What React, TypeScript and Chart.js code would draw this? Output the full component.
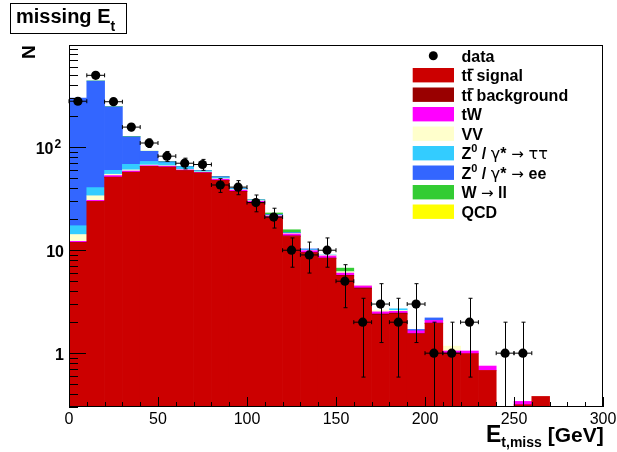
import React, { useEffect, useRef } from "react";
import { Chart, registerables } from "chart.js";

Chart.register(...registerables);

// ---- data (bins of 10 GeV, centres) ----
const BIN_CENTERS = [5, 15, 25, 35, 45, 55, 65, 75, 85, 95, 105, 115, 125, 135, 145, 155, 165, 175, 185, 195, 205, 215, 225, 235, 245, 255, 265, 275, 285, 295];
const DATA_COUNTS = [280, 500, 277, 157, 110, 82, 70, 68, 43, 41, 29, 21, 10, 9, 10, 5, 2, 3, 2, 3, 1, 1, 2, 0, 1, 1, 0, 0, 0, 0];

const TT_SIGNAL = [11.8, 29.5, 51, 57, 65, 64, 59, 56, 47.5, 37, 29, 20.8, 13.6, 9.4, 8.3, 5.6, 4.2, 2.35, 2.4, 1.52, 1.94, 1.0, 0.99, 0.68, 0, 0.316, 0.38, 0, 0, 0];
const TT_BACKGROUND = [0.1, 0.2, 0.3, 0.3, 0.3, 0.3, 0.3, 0.3, 0.3, 0.3, 0.2, 0.2, 0.2, 0.1, 0.1, 0.1, 0.1, 0.05, 0.05, 0.03, 0.02, 0, 0, 0, 0, 0, 0, 0, 0, 0];
const TW = [0.3, 0.8, 1.8, 1.5, 1.0, 1.2, 1.0, 0.8, 1.2, 1.0, 0.7, 0.5, 0.6, 0.4, 0.4, 0.3, 0.2, 0.12, 0.1, 0.1, 0.12, 0.05, 0.06, 0.07, 0, 0.024, 0, 0, 0, 0];
const VV = [2.0, 3.3, 1.6, 1.5, 1.0, 0.8, 0.6, 0.5, 0.6, 0.5, 0.4, 0.2, 0.2, 0.1, 0.1, 0.2, 0.05, 0.1, 0.05, 0, 0, 0.12, 0, 0, 0, 0, 0, 0, 0, 0];
const Z_TAUTAU = [3.1, 6.8, 5, 8, 5.5, 4.5, 3.5, 1.4, 1.2, 0.8, 0.4, 0.2, 0.1, 0.1, 0.1, 0, 0, 0, 0.1, 0, 0, 0, 0, 0, 0, 0, 0, 0, 0, 0];
const Z_EE = [283, 400, 188, 58, 18.5, 1.5, 0.5, 0.3, 1.0, 0.3, 0.1, 0.3, 0.1, 0.2, 0, 0, 0, 0, 0, 0.05, 0.12, 0, 0, 0, 0, 0, 0, 0, 0, 0];
const W_LL = [0, 0.5, 0.5, 1, 0.3, 0.4, 0.2, 0.2, 0.1, 0.1, 0.1, 0.8, 1.0, 0, 0, 0.5, 0, 0, 0, 0, 0, 0, 0, 0, 0, 0, 0, 0, 0, 0];
const QCD = [0, 0, 0, 0, 0, 0, 0, 0, 0, 0, 0, 0, 0, 0, 0, 0, 0, 0, 0, 0, 0, 0, 0, 0, 0, 0, 0, 0, 0, 0];

const X_TICK_LABELS = [0, 50, 100, 150, 200, 250, 300];
const Y_MAJOR_TICKS = [1, 10, 100];
const BIN_WIDTH = 10;

const SERIES = [
  { key: "signal", values: TT_SIGNAL, color: "#cc0000" },
  { key: "background", values: TT_BACKGROUND, color: "#990000" },
  { key: "tW", values: TW, color: "#ff00ff" },
  { key: "VV", values: VV, color: "#ffffcc" },
  { key: "Ztt", values: Z_TAUTAU, color: "#33ccff" },
  { key: "Zee", values: Z_EE, color: "#3366ff" },
  { key: "W", values: W_LL, color: "#33cc33" },
  { key: "QCD", values: QCD, color: "#ffff00" },
];

const SANS = "'Liberation Sans', Arial, Helvetica, sans-serif";
const SYM = "'DejaVu Sans', sans-serif";
const B = (s: number) => `bold ${s}px ${SANS}`;
const R = (s: number) => `${s}px ${SANS}`;
const S = (s: number) => `${s}px ${SYM}`;

type Seg = { t: string; f: string; dy?: number };

function drawRich(ctx: CanvasRenderingContext2D, x: number, y: number, segs: Seg[]) {
  let cx = x;
  for (const s of segs) {
    ctx.font = s.f;
    ctx.fillText(s.t, cx, y + (s.dy || 0));
    cx += ctx.measureText(s.t).width;
  }
  return cx;
}

const decorPlugin = {
  id: "decor",
  afterDatasetsDraw(chart: any) {
    const ctx: CanvasRenderingContext2D = chart.ctx;
    const xs = chart.scales.x;
    const ys = chart.scales.y;
    const ca = chart.chartArea;
    ctx.save();

    // error bars for data
    ctx.strokeStyle = "#000";
    ctx.lineWidth = 1;
    BIN_CENTERS.forEach((c, i) => {
      const n = DATA_COUNTS[i];
      if (n <= 0) return;
      const err = Math.sqrt(n);
      const px = Math.round(xs.getPixelForValue(c)) + 0.5;
      const py = ys.getPixelForValue(n);
      const x1 = xs.getPixelForValue(c - BIN_WIDTH / 2);
      const x2 = xs.getPixelForValue(c + BIN_WIDTH / 2);
      const lo = n - err > ys.min ? ys.getPixelForValue(n - err) : ca.bottom;
      const hi = ys.getPixelForValue(n + err);
      ctx.beginPath();
      ctx.moveTo(x1, py); ctx.lineTo(x2, py);
      ctx.moveTo(x1, py - 2); ctx.lineTo(x1, py + 2);
      ctx.moveTo(x2, py - 2); ctx.lineTo(x2, py + 2);
      ctx.moveTo(px, hi); ctx.lineTo(px, lo);
      ctx.moveTo(px - 2, hi); ctx.lineTo(px + 2, hi);
      if (lo < ca.bottom) { ctx.moveTo(px - 2, lo); ctx.lineTo(px + 2, lo); }
      ctx.stroke();
    });

    // frame
    ctx.strokeStyle = "#000";
    ctx.lineWidth = 1;
    ctx.strokeRect(Math.round(ca.left) + 0.5, Math.round(ca.top) + 0.5, Math.round(ca.right - ca.left) - 1, Math.round(ca.bottom - ca.top) - 1);

    // x ticks
    ctx.beginPath();
    for (let v = 0; v <= 300; v += 10) {
      const px = Math.round(xs.getPixelForValue(v)) + 0.5;
      const len = v % 50 === 0 ? 10 : 5;
      ctx.moveTo(px, ca.bottom);
      ctx.lineTo(px, ca.bottom - len);
    }
    // y ticks
    for (let dec = 0.1; dec <= 1000; dec *= 10) {
      for (let m = 1; m <= 9; m++) {
        const v = dec * m;
        if (v < ys.min - 1e-9 || v > ys.max) continue;
        const py = Math.round(ys.getPixelForValue(v)) + 0.5;
        const len = m === 1 ? 17 : 9;
        ctx.moveTo(ca.left, py);
        ctx.lineTo(ca.left + len, py);
      }
    }
    ctx.stroke();

    // x tick labels
    ctx.fillStyle = "#000";
    ctx.textAlign = "center";
    ctx.textBaseline = "alphabetic";
    ctx.font = R(16);
    X_TICK_LABELS.forEach((v) => {
      ctx.fillText(String(v), xs.getPixelForValue(v), 424);
    });

    // y tick labels
    Y_MAJOR_TICKS.forEach((v) => {
      const py = ys.getPixelForValue(v);
      if (v === 100) {
        ctx.textAlign = "right";
        ctx.font = B(16);
        ctx.fillText("10", 53.5, py + 6.5);
        ctx.textAlign = "left";
        ctx.font = B(12);
        ctx.fillText("2", 54.5, py + 1);
      } else {
        ctx.textAlign = "right";
        ctx.font = B(16);
        ctx.fillText(String(v), 64, py + 6.5);
      }
    });

    // axis titles
    ctx.textAlign = "left";
    ctx.fillStyle = "#000";
    drawRich(ctx, 486, 442, [
      { t: "E", f: B(23) },
      { t: "t,miss", f: B(14), dy: 5 },
      { t: " [GeV]", f: B(21) },
    ]);
    ctx.save();
    ctx.translate(35, 59);
    ctx.rotate(-Math.PI / 2);
    ctx.font = B(19);
    ctx.fillText("N", 0, 0);
    ctx.restore();

    // title box
    ctx.fillStyle = "#fff";
    ctx.fillRect(10, 3, 116, 31);
    ctx.strokeStyle = "#000";
    ctx.strokeRect(10.5, 3.5, 116, 30);
    ctx.fillStyle = "#000";
    drawRich(ctx, 16, 23, [
      { t: "missing E", f: B(20) },
      { t: "t", f: B(14), dy: 8 },
    ]);

    // legend
    const rowY = (i: number) => 55.7 + 19.5 * i;
    const tx = 461.5;
    ctx.fillStyle = "#000";
    ctx.beginPath();
    ctx.arc(433.3, rowY(0), 4.5, 0, Math.PI * 2);
    ctx.fill();
    ctx.font = B(16);
    ctx.fillText("data", tx, rowY(0) + 6);

    const labels: Seg[][] = [
      [{ t: "tt signal", f: B(16) }],
      [{ t: "tt background", f: B(16) }],
      [{ t: "tW", f: B(16) }],
      [{ t: "VV", f: B(16) }],
      [
        { t: "Z", f: B(16) }, { t: "0", f: B(11), dy: -7 }, { t: " / ", f: B(16) },
        { t: "γ", f: S(16) }, { t: "*", f: B(16) }, { t: " → ", f: S(15) }, { t: "ττ", f: S(16) },
      ],
      [
        { t: "Z", f: B(16) }, { t: "0", f: B(11), dy: -7 }, { t: " / ", f: B(16) },
        { t: "γ", f: S(16) }, { t: "*", f: B(16) }, { t: " → ", f: S(15) }, { t: "ee", f: B(16) },
      ],
      [{ t: "W ", f: B(16) }, { t: "→", f: S(15) }, { t: " ll", f: B(16) }],
      [{ t: "QCD", f: B(16) }],
    ];
    SERIES.forEach((s, i) => {
      const cy = rowY(i + 1);
      ctx.fillStyle = s.color;
      ctx.fillRect(412.7, cy - 7.2, 41.3, 14.4);
      ctx.fillStyle = "#000";
      drawRich(ctx, tx, cy + 6, labels[i]);
      if (i < 2) {
        ctx.font = B(16);
        const wt = ctx.measureText("t").width;
        ctx.fillRect(tx + wt + 1, cy - 6.5, wt + 0.5, 1.5);
      }
    });

    ctx.restore();
  },
};

export default function App() {
  const ref = useRef<HTMLCanvasElement>(null);
  useEffect(() => {
    if (!ref.current) return;
    const barSets = SERIES.map((s) => ({
      type: "bar" as const,
      label: s.key,
      data: BIN_CENTERS.map((c, i) => ({ x: c, y: s.values[i] })),
      backgroundColor: s.color,
      borderWidth: 0,
      barPercentage: 1,
      categoryPercentage: 1,
      stack: "mc",
      order: 1,
    }));
    const pts = BIN_CENTERS.map((c, i) => ({ x: c, y: DATA_COUNTS[i] })).filter((p) => p.y > 0);
    const chart = new Chart(ref.current, {
      type: "bar",
      data: {
        datasets: [
          ...barSets,
          {
            type: "scatter" as const,
            label: "data",
            data: pts,
            backgroundColor: "#000",
            borderWidth: 0,
            pointRadius: 4.6,
            stack: "data",
            order: -1,
          } as any,
        ],
      },
      options: {
        animation: false,
        responsive: false,
        events: [],
        layout: { padding: { left: 69, right: 14, top: 45, bottom: 45 } },
        plugins: { legend: { display: false }, tooltip: { enabled: false }, title: { display: false } },
        scales: {
          x: { type: "linear", min: 0, max: 300, offset: false, display: false, stacked: true, grid: { offset: false } },
          y: { type: "logarithmic", min: 0.3, max: 985, display: false, stacked: true },
        },
      },
      plugins: [decorPlugin],
    });
    return () => chart.destroy();
  }, []);
  return (
    <div style={{ position: "absolute", left: 0, top: 0, width: 617, height: 452, background: "#fff" }}>
      <canvas ref={ref} width={617} height={452} style={{ width: 617, height: 452, display: "block" }} />
    </div>
  );
}
